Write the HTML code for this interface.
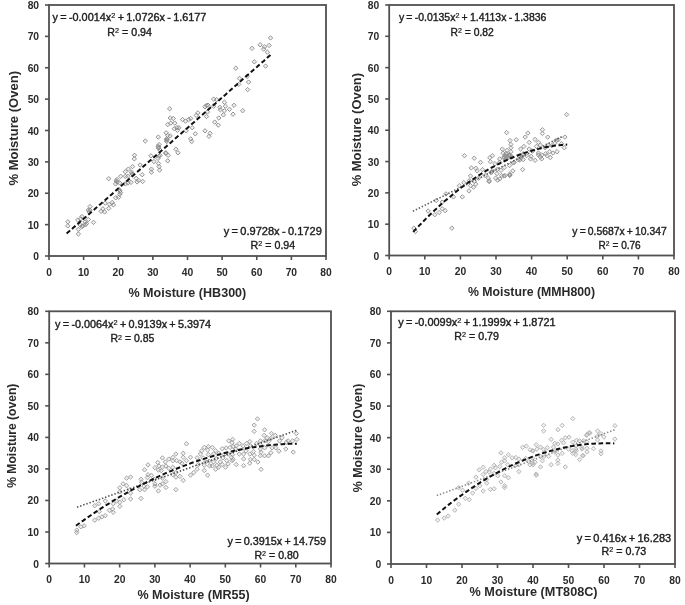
<!DOCTYPE html><html><head><meta charset="utf-8"><style>html,body{margin:0;padding:0;background:#fff;overflow:hidden}svg{display:block;filter:blur(0.35px)}</style></head><body><svg width="685" height="605" viewBox="0 0 685 605">
<rect width="685" height="605" fill="#fff"/>
<line x1="45.0" y1="256.00" x2="49.0" y2="256.00" stroke="#505050" stroke-width="1.6"/>
<text x="39.1" y="260.00" text-anchor="end" font-family="Liberation Sans, sans-serif" font-weight="bold" font-size="10.3" fill="#2a2a2a">0</text>
<line x1="49.00" y1="256.0" x2="49.00" y2="260.0" stroke="#505050" stroke-width="1.6"/>
<text x="49.00" y="275.80" text-anchor="middle" font-family="Liberation Sans, sans-serif" font-weight="bold" font-size="10.3" fill="#2a2a2a">0</text>
<line x1="45.0" y1="224.62" x2="49.0" y2="224.62" stroke="#505050" stroke-width="1.6"/>
<text x="39.1" y="228.62" text-anchor="end" font-family="Liberation Sans, sans-serif" font-weight="bold" font-size="10.3" fill="#2a2a2a">10</text>
<line x1="83.62" y1="256.0" x2="83.62" y2="260.0" stroke="#505050" stroke-width="1.6"/>
<text x="83.62" y="275.80" text-anchor="middle" font-family="Liberation Sans, sans-serif" font-weight="bold" font-size="10.3" fill="#2a2a2a">10</text>
<line x1="45.0" y1="193.25" x2="49.0" y2="193.25" stroke="#505050" stroke-width="1.6"/>
<text x="39.1" y="197.25" text-anchor="end" font-family="Liberation Sans, sans-serif" font-weight="bold" font-size="10.3" fill="#2a2a2a">20</text>
<line x1="118.25" y1="256.0" x2="118.25" y2="260.0" stroke="#505050" stroke-width="1.6"/>
<text x="118.25" y="275.80" text-anchor="middle" font-family="Liberation Sans, sans-serif" font-weight="bold" font-size="10.3" fill="#2a2a2a">20</text>
<line x1="45.0" y1="161.88" x2="49.0" y2="161.88" stroke="#505050" stroke-width="1.6"/>
<text x="39.1" y="165.88" text-anchor="end" font-family="Liberation Sans, sans-serif" font-weight="bold" font-size="10.3" fill="#2a2a2a">30</text>
<line x1="152.88" y1="256.0" x2="152.88" y2="260.0" stroke="#505050" stroke-width="1.6"/>
<text x="152.88" y="275.80" text-anchor="middle" font-family="Liberation Sans, sans-serif" font-weight="bold" font-size="10.3" fill="#2a2a2a">30</text>
<line x1="45.0" y1="130.50" x2="49.0" y2="130.50" stroke="#505050" stroke-width="1.6"/>
<text x="39.1" y="134.50" text-anchor="end" font-family="Liberation Sans, sans-serif" font-weight="bold" font-size="10.3" fill="#2a2a2a">40</text>
<line x1="187.50" y1="256.0" x2="187.50" y2="260.0" stroke="#505050" stroke-width="1.6"/>
<text x="187.50" y="275.80" text-anchor="middle" font-family="Liberation Sans, sans-serif" font-weight="bold" font-size="10.3" fill="#2a2a2a">40</text>
<line x1="45.0" y1="99.12" x2="49.0" y2="99.12" stroke="#505050" stroke-width="1.6"/>
<text x="39.1" y="103.12" text-anchor="end" font-family="Liberation Sans, sans-serif" font-weight="bold" font-size="10.3" fill="#2a2a2a">50</text>
<line x1="222.12" y1="256.0" x2="222.12" y2="260.0" stroke="#505050" stroke-width="1.6"/>
<text x="222.12" y="275.80" text-anchor="middle" font-family="Liberation Sans, sans-serif" font-weight="bold" font-size="10.3" fill="#2a2a2a">50</text>
<line x1="45.0" y1="67.75" x2="49.0" y2="67.75" stroke="#505050" stroke-width="1.6"/>
<text x="39.1" y="71.75" text-anchor="end" font-family="Liberation Sans, sans-serif" font-weight="bold" font-size="10.3" fill="#2a2a2a">60</text>
<line x1="256.75" y1="256.0" x2="256.75" y2="260.0" stroke="#505050" stroke-width="1.6"/>
<text x="256.75" y="275.80" text-anchor="middle" font-family="Liberation Sans, sans-serif" font-weight="bold" font-size="10.3" fill="#2a2a2a">60</text>
<line x1="45.0" y1="36.38" x2="49.0" y2="36.38" stroke="#505050" stroke-width="1.6"/>
<text x="39.1" y="40.38" text-anchor="end" font-family="Liberation Sans, sans-serif" font-weight="bold" font-size="10.3" fill="#2a2a2a">70</text>
<line x1="291.38" y1="256.0" x2="291.38" y2="260.0" stroke="#505050" stroke-width="1.6"/>
<text x="291.38" y="275.80" text-anchor="middle" font-family="Liberation Sans, sans-serif" font-weight="bold" font-size="10.3" fill="#2a2a2a">70</text>
<line x1="45.0" y1="5.00" x2="49.0" y2="5.00" stroke="#505050" stroke-width="1.6"/>
<text x="39.1" y="9.00" text-anchor="end" font-family="Liberation Sans, sans-serif" font-weight="bold" font-size="10.3" fill="#2a2a2a">80</text>
<line x1="326.00" y1="256.0" x2="326.00" y2="260.0" stroke="#505050" stroke-width="1.6"/>
<text x="326.00" y="275.80" text-anchor="middle" font-family="Liberation Sans, sans-serif" font-weight="bold" font-size="10.3" fill="#2a2a2a">80</text>
<rect x="49.0" y="5.0" width="277.0" height="251.0" fill="none" stroke="#505050" stroke-width="1.8"/>
<line x1="385.2" y1="255.50" x2="389.2" y2="255.50" stroke="#505050" stroke-width="1.6"/>
<text x="379.2" y="259.50" text-anchor="end" font-family="Liberation Sans, sans-serif" font-weight="bold" font-size="10.3" fill="#2a2a2a">0</text>
<line x1="389.20" y1="255.5" x2="389.20" y2="259.5" stroke="#505050" stroke-width="1.6"/>
<text x="389.20" y="275.30" text-anchor="middle" font-family="Liberation Sans, sans-serif" font-weight="bold" font-size="10.3" fill="#2a2a2a">0</text>
<line x1="385.2" y1="224.19" x2="389.2" y2="224.19" stroke="#505050" stroke-width="1.6"/>
<text x="379.2" y="228.19" text-anchor="end" font-family="Liberation Sans, sans-serif" font-weight="bold" font-size="10.3" fill="#2a2a2a">10</text>
<line x1="424.80" y1="255.5" x2="424.80" y2="259.5" stroke="#505050" stroke-width="1.6"/>
<text x="424.80" y="275.30" text-anchor="middle" font-family="Liberation Sans, sans-serif" font-weight="bold" font-size="10.3" fill="#2a2a2a">10</text>
<line x1="385.2" y1="192.88" x2="389.2" y2="192.88" stroke="#505050" stroke-width="1.6"/>
<text x="379.2" y="196.88" text-anchor="end" font-family="Liberation Sans, sans-serif" font-weight="bold" font-size="10.3" fill="#2a2a2a">20</text>
<line x1="460.40" y1="255.5" x2="460.40" y2="259.5" stroke="#505050" stroke-width="1.6"/>
<text x="460.40" y="275.30" text-anchor="middle" font-family="Liberation Sans, sans-serif" font-weight="bold" font-size="10.3" fill="#2a2a2a">20</text>
<line x1="385.2" y1="161.56" x2="389.2" y2="161.56" stroke="#505050" stroke-width="1.6"/>
<text x="379.2" y="165.56" text-anchor="end" font-family="Liberation Sans, sans-serif" font-weight="bold" font-size="10.3" fill="#2a2a2a">30</text>
<line x1="496.00" y1="255.5" x2="496.00" y2="259.5" stroke="#505050" stroke-width="1.6"/>
<text x="496.00" y="275.30" text-anchor="middle" font-family="Liberation Sans, sans-serif" font-weight="bold" font-size="10.3" fill="#2a2a2a">30</text>
<line x1="385.2" y1="130.25" x2="389.2" y2="130.25" stroke="#505050" stroke-width="1.6"/>
<text x="379.2" y="134.25" text-anchor="end" font-family="Liberation Sans, sans-serif" font-weight="bold" font-size="10.3" fill="#2a2a2a">40</text>
<line x1="531.60" y1="255.5" x2="531.60" y2="259.5" stroke="#505050" stroke-width="1.6"/>
<text x="531.60" y="275.30" text-anchor="middle" font-family="Liberation Sans, sans-serif" font-weight="bold" font-size="10.3" fill="#2a2a2a">40</text>
<line x1="385.2" y1="98.94" x2="389.2" y2="98.94" stroke="#505050" stroke-width="1.6"/>
<text x="379.2" y="102.94" text-anchor="end" font-family="Liberation Sans, sans-serif" font-weight="bold" font-size="10.3" fill="#2a2a2a">50</text>
<line x1="567.20" y1="255.5" x2="567.20" y2="259.5" stroke="#505050" stroke-width="1.6"/>
<text x="567.20" y="275.30" text-anchor="middle" font-family="Liberation Sans, sans-serif" font-weight="bold" font-size="10.3" fill="#2a2a2a">50</text>
<line x1="385.2" y1="67.62" x2="389.2" y2="67.62" stroke="#505050" stroke-width="1.6"/>
<text x="379.2" y="71.62" text-anchor="end" font-family="Liberation Sans, sans-serif" font-weight="bold" font-size="10.3" fill="#2a2a2a">60</text>
<line x1="602.80" y1="255.5" x2="602.80" y2="259.5" stroke="#505050" stroke-width="1.6"/>
<text x="602.80" y="275.30" text-anchor="middle" font-family="Liberation Sans, sans-serif" font-weight="bold" font-size="10.3" fill="#2a2a2a">60</text>
<line x1="385.2" y1="36.31" x2="389.2" y2="36.31" stroke="#505050" stroke-width="1.6"/>
<text x="379.2" y="40.31" text-anchor="end" font-family="Liberation Sans, sans-serif" font-weight="bold" font-size="10.3" fill="#2a2a2a">70</text>
<line x1="638.40" y1="255.5" x2="638.40" y2="259.5" stroke="#505050" stroke-width="1.6"/>
<text x="638.40" y="275.30" text-anchor="middle" font-family="Liberation Sans, sans-serif" font-weight="bold" font-size="10.3" fill="#2a2a2a">70</text>
<line x1="385.2" y1="5.00" x2="389.2" y2="5.00" stroke="#505050" stroke-width="1.6"/>
<text x="379.2" y="9.00" text-anchor="end" font-family="Liberation Sans, sans-serif" font-weight="bold" font-size="10.3" fill="#2a2a2a">80</text>
<line x1="674.00" y1="255.5" x2="674.00" y2="259.5" stroke="#505050" stroke-width="1.6"/>
<text x="674.00" y="275.30" text-anchor="middle" font-family="Liberation Sans, sans-serif" font-weight="bold" font-size="10.3" fill="#2a2a2a">80</text>
<rect x="389.2" y="5.0" width="284.8" height="250.5" fill="none" stroke="#505050" stroke-width="1.8"/>
<line x1="45.2" y1="563.50" x2="49.2" y2="563.50" stroke="#505050" stroke-width="1.6"/>
<text x="39.0" y="567.50" text-anchor="end" font-family="Liberation Sans, sans-serif" font-weight="bold" font-size="10.3" fill="#2a2a2a">0</text>
<line x1="49.20" y1="563.5" x2="49.20" y2="567.5" stroke="#505050" stroke-width="1.6"/>
<text x="49.20" y="583.30" text-anchor="middle" font-family="Liberation Sans, sans-serif" font-weight="bold" font-size="10.3" fill="#2a2a2a">0</text>
<line x1="45.2" y1="531.98" x2="49.2" y2="531.98" stroke="#505050" stroke-width="1.6"/>
<text x="39.0" y="535.98" text-anchor="end" font-family="Liberation Sans, sans-serif" font-weight="bold" font-size="10.3" fill="#2a2a2a">10</text>
<line x1="84.43" y1="563.5" x2="84.43" y2="567.5" stroke="#505050" stroke-width="1.6"/>
<text x="84.43" y="583.30" text-anchor="middle" font-family="Liberation Sans, sans-serif" font-weight="bold" font-size="10.3" fill="#2a2a2a">10</text>
<line x1="45.2" y1="500.45" x2="49.2" y2="500.45" stroke="#505050" stroke-width="1.6"/>
<text x="39.0" y="504.45" text-anchor="end" font-family="Liberation Sans, sans-serif" font-weight="bold" font-size="10.3" fill="#2a2a2a">20</text>
<line x1="119.65" y1="563.5" x2="119.65" y2="567.5" stroke="#505050" stroke-width="1.6"/>
<text x="119.65" y="583.30" text-anchor="middle" font-family="Liberation Sans, sans-serif" font-weight="bold" font-size="10.3" fill="#2a2a2a">20</text>
<line x1="45.2" y1="468.93" x2="49.2" y2="468.93" stroke="#505050" stroke-width="1.6"/>
<text x="39.0" y="472.93" text-anchor="end" font-family="Liberation Sans, sans-serif" font-weight="bold" font-size="10.3" fill="#2a2a2a">30</text>
<line x1="154.88" y1="563.5" x2="154.88" y2="567.5" stroke="#505050" stroke-width="1.6"/>
<text x="154.88" y="583.30" text-anchor="middle" font-family="Liberation Sans, sans-serif" font-weight="bold" font-size="10.3" fill="#2a2a2a">30</text>
<line x1="45.2" y1="437.40" x2="49.2" y2="437.40" stroke="#505050" stroke-width="1.6"/>
<text x="39.0" y="441.40" text-anchor="end" font-family="Liberation Sans, sans-serif" font-weight="bold" font-size="10.3" fill="#2a2a2a">40</text>
<line x1="190.10" y1="563.5" x2="190.10" y2="567.5" stroke="#505050" stroke-width="1.6"/>
<text x="190.10" y="583.30" text-anchor="middle" font-family="Liberation Sans, sans-serif" font-weight="bold" font-size="10.3" fill="#2a2a2a">40</text>
<line x1="45.2" y1="405.88" x2="49.2" y2="405.88" stroke="#505050" stroke-width="1.6"/>
<text x="39.0" y="409.88" text-anchor="end" font-family="Liberation Sans, sans-serif" font-weight="bold" font-size="10.3" fill="#2a2a2a">50</text>
<line x1="225.32" y1="563.5" x2="225.32" y2="567.5" stroke="#505050" stroke-width="1.6"/>
<text x="225.32" y="583.30" text-anchor="middle" font-family="Liberation Sans, sans-serif" font-weight="bold" font-size="10.3" fill="#2a2a2a">50</text>
<line x1="45.2" y1="374.35" x2="49.2" y2="374.35" stroke="#505050" stroke-width="1.6"/>
<text x="39.0" y="378.35" text-anchor="end" font-family="Liberation Sans, sans-serif" font-weight="bold" font-size="10.3" fill="#2a2a2a">60</text>
<line x1="260.55" y1="563.5" x2="260.55" y2="567.5" stroke="#505050" stroke-width="1.6"/>
<text x="260.55" y="583.30" text-anchor="middle" font-family="Liberation Sans, sans-serif" font-weight="bold" font-size="10.3" fill="#2a2a2a">60</text>
<line x1="45.2" y1="342.83" x2="49.2" y2="342.83" stroke="#505050" stroke-width="1.6"/>
<text x="39.0" y="346.83" text-anchor="end" font-family="Liberation Sans, sans-serif" font-weight="bold" font-size="10.3" fill="#2a2a2a">70</text>
<line x1="295.77" y1="563.5" x2="295.77" y2="567.5" stroke="#505050" stroke-width="1.6"/>
<text x="295.77" y="583.30" text-anchor="middle" font-family="Liberation Sans, sans-serif" font-weight="bold" font-size="10.3" fill="#2a2a2a">70</text>
<line x1="45.2" y1="311.30" x2="49.2" y2="311.30" stroke="#505050" stroke-width="1.6"/>
<text x="39.0" y="315.30" text-anchor="end" font-family="Liberation Sans, sans-serif" font-weight="bold" font-size="10.3" fill="#2a2a2a">80</text>
<line x1="331.00" y1="563.5" x2="331.00" y2="567.5" stroke="#505050" stroke-width="1.6"/>
<text x="331.00" y="583.30" text-anchor="middle" font-family="Liberation Sans, sans-serif" font-weight="bold" font-size="10.3" fill="#2a2a2a">80</text>
<rect x="49.2" y="311.3" width="281.8" height="252.2" fill="none" stroke="#505050" stroke-width="1.8"/>
<line x1="387.0" y1="564.00" x2="391.0" y2="564.00" stroke="#505050" stroke-width="1.6"/>
<text x="381.3" y="568.00" text-anchor="end" font-family="Liberation Sans, sans-serif" font-weight="bold" font-size="10.3" fill="#2a2a2a">0</text>
<line x1="391.00" y1="564.0" x2="391.00" y2="568.0" stroke="#505050" stroke-width="1.6"/>
<text x="391.00" y="583.80" text-anchor="middle" font-family="Liberation Sans, sans-serif" font-weight="bold" font-size="10.3" fill="#2a2a2a">0</text>
<line x1="387.0" y1="532.41" x2="391.0" y2="532.41" stroke="#505050" stroke-width="1.6"/>
<text x="381.3" y="536.41" text-anchor="end" font-family="Liberation Sans, sans-serif" font-weight="bold" font-size="10.3" fill="#2a2a2a">10</text>
<line x1="426.50" y1="564.0" x2="426.50" y2="568.0" stroke="#505050" stroke-width="1.6"/>
<text x="426.50" y="583.80" text-anchor="middle" font-family="Liberation Sans, sans-serif" font-weight="bold" font-size="10.3" fill="#2a2a2a">10</text>
<line x1="387.0" y1="500.82" x2="391.0" y2="500.82" stroke="#505050" stroke-width="1.6"/>
<text x="381.3" y="504.82" text-anchor="end" font-family="Liberation Sans, sans-serif" font-weight="bold" font-size="10.3" fill="#2a2a2a">20</text>
<line x1="462.00" y1="564.0" x2="462.00" y2="568.0" stroke="#505050" stroke-width="1.6"/>
<text x="462.00" y="583.80" text-anchor="middle" font-family="Liberation Sans, sans-serif" font-weight="bold" font-size="10.3" fill="#2a2a2a">20</text>
<line x1="387.0" y1="469.24" x2="391.0" y2="469.24" stroke="#505050" stroke-width="1.6"/>
<text x="381.3" y="473.24" text-anchor="end" font-family="Liberation Sans, sans-serif" font-weight="bold" font-size="10.3" fill="#2a2a2a">30</text>
<line x1="497.50" y1="564.0" x2="497.50" y2="568.0" stroke="#505050" stroke-width="1.6"/>
<text x="497.50" y="583.80" text-anchor="middle" font-family="Liberation Sans, sans-serif" font-weight="bold" font-size="10.3" fill="#2a2a2a">30</text>
<line x1="387.0" y1="437.65" x2="391.0" y2="437.65" stroke="#505050" stroke-width="1.6"/>
<text x="381.3" y="441.65" text-anchor="end" font-family="Liberation Sans, sans-serif" font-weight="bold" font-size="10.3" fill="#2a2a2a">40</text>
<line x1="533.00" y1="564.0" x2="533.00" y2="568.0" stroke="#505050" stroke-width="1.6"/>
<text x="533.00" y="583.80" text-anchor="middle" font-family="Liberation Sans, sans-serif" font-weight="bold" font-size="10.3" fill="#2a2a2a">40</text>
<line x1="387.0" y1="406.06" x2="391.0" y2="406.06" stroke="#505050" stroke-width="1.6"/>
<text x="381.3" y="410.06" text-anchor="end" font-family="Liberation Sans, sans-serif" font-weight="bold" font-size="10.3" fill="#2a2a2a">50</text>
<line x1="568.50" y1="564.0" x2="568.50" y2="568.0" stroke="#505050" stroke-width="1.6"/>
<text x="568.50" y="583.80" text-anchor="middle" font-family="Liberation Sans, sans-serif" font-weight="bold" font-size="10.3" fill="#2a2a2a">50</text>
<line x1="387.0" y1="374.48" x2="391.0" y2="374.48" stroke="#505050" stroke-width="1.6"/>
<text x="381.3" y="378.48" text-anchor="end" font-family="Liberation Sans, sans-serif" font-weight="bold" font-size="10.3" fill="#2a2a2a">60</text>
<line x1="604.00" y1="564.0" x2="604.00" y2="568.0" stroke="#505050" stroke-width="1.6"/>
<text x="604.00" y="583.80" text-anchor="middle" font-family="Liberation Sans, sans-serif" font-weight="bold" font-size="10.3" fill="#2a2a2a">60</text>
<line x1="387.0" y1="342.89" x2="391.0" y2="342.89" stroke="#505050" stroke-width="1.6"/>
<text x="381.3" y="346.89" text-anchor="end" font-family="Liberation Sans, sans-serif" font-weight="bold" font-size="10.3" fill="#2a2a2a">70</text>
<line x1="639.50" y1="564.0" x2="639.50" y2="568.0" stroke="#505050" stroke-width="1.6"/>
<text x="639.50" y="583.80" text-anchor="middle" font-family="Liberation Sans, sans-serif" font-weight="bold" font-size="10.3" fill="#2a2a2a">70</text>
<line x1="387.0" y1="311.30" x2="391.0" y2="311.30" stroke="#505050" stroke-width="1.6"/>
<text x="381.3" y="315.30" text-anchor="end" font-family="Liberation Sans, sans-serif" font-weight="bold" font-size="10.3" fill="#2a2a2a">80</text>
<line x1="675.00" y1="564.0" x2="675.00" y2="568.0" stroke="#505050" stroke-width="1.6"/>
<text x="675.00" y="583.80" text-anchor="middle" font-family="Liberation Sans, sans-serif" font-weight="bold" font-size="10.3" fill="#2a2a2a">80</text>
<rect x="391.0" y="311.3" width="284.0" height="252.7" fill="none" stroke="#505050" stroke-width="1.8"/>
<g fill="#808080" fill-opacity="0.13" stroke="#8a8a8a" stroke-width="0.9">
<path d="M67.8 219.6l2.2 2.2l-2.2 2.2l-2.2-2.2z"/>
<path d="M67.8 223.7l2.2 2.2l-2.2 2.2l-2.2-2.2z"/>
<path d="M77.8 217.8l2.2 2.2l-2.2 2.2l-2.2-2.2z"/>
<path d="M78.4 227.2l2.2 2.2l-2.2 2.2l-2.2-2.2z"/>
<path d="M78.4 231.8l2.2 2.2l-2.2 2.2l-2.2-2.2z"/>
<path d="M80.7 216.7l2.2 2.2l-2.2 2.2l-2.2-2.2z"/>
<path d="M81.9 214.3l2.2 2.2l-2.2 2.2l-2.2-2.2z"/>
<path d="M83.0 223.7l2.2 2.2l-2.2 2.2l-2.2-2.2z"/>
<path d="M85.4 222.5l2.2 2.2l-2.2 2.2l-2.2-2.2z"/>
<path d="M86.5 221.3l2.2 2.2l-2.2 2.2l-2.2-2.2z"/>
<path d="M88.3 217.3l2.2 2.2l-2.2 2.2l-2.2-2.2z"/>
<path d="M88.3 207.9l2.2 2.2l-2.2 2.2l-2.2-2.2z"/>
<path d="M90.0 204.4l2.2 2.2l-2.2 2.2l-2.2-2.2z"/>
<path d="M90.0 207.9l2.2 2.2l-2.2 2.2l-2.2-2.2z"/>
<path d="M93.5 220.2l2.2 2.2l-2.2 2.2l-2.2-2.2z"/>
<path d="M101.1 209.1l2.2 2.2l-2.2 2.2l-2.2-2.2z"/>
<path d="M102.9 206.7l2.2 2.2l-2.2 2.2l-2.2-2.2z"/>
<path d="M104.6 209.7l2.2 2.2l-2.2 2.2l-2.2-2.2z"/>
<path d="M105.2 200.9l2.2 2.2l-2.2 2.2l-2.2-2.2z"/>
<path d="M108.7 206.2l2.2 2.2l-2.2 2.2l-2.2-2.2z"/>
<path d="M109.3 202.1l2.2 2.2l-2.2 2.2l-2.2-2.2z"/>
<path d="M112.2 200.3l2.2 2.2l-2.2 2.2l-2.2-2.2z"/>
<path d="M113.4 202.7l2.2 2.2l-2.2 2.2l-2.2-2.2z"/>
<path d="M115.7 195.6l2.2 2.2l-2.2 2.2l-2.2-2.2z"/>
<path d="M118.6 195.1l2.2 2.2l-2.2 2.2l-2.2-2.2z"/>
<path d="M119.8 192.1l2.2 2.2l-2.2 2.2l-2.2-2.2z"/>
<path d="M120.4 190.4l2.2 2.2l-2.2 2.2l-2.2-2.2z"/>
<path d="M119.2 187.5l2.2 2.2l-2.2 2.2l-2.2-2.2z"/>
<path d="M80.1 222.5l2.2 2.2l-2.2 2.2l-2.2-2.2z"/>
<path d="M81.9 224.3l2.2 2.2l-2.2 2.2l-2.2-2.2z"/>
<path d="M145.3 138.8l2.2 2.2l-2.2 2.2l-2.2-2.2z"/>
<path d="M134.5 153.1l2.2 2.2l-2.2 2.2l-2.2-2.2z"/>
<path d="M134.3 156.7l2.2 2.2l-2.2 2.2l-2.2-2.2z"/>
<path d="M132.5 164.4l2.2 2.2l-2.2 2.2l-2.2-2.2z"/>
<path d="M128.4 166.9l2.2 2.2l-2.2 2.2l-2.2-2.2z"/>
<path d="M125.3 169.5l2.2 2.2l-2.2 2.2l-2.2-2.2z"/>
<path d="M131.5 170.0l2.2 2.2l-2.2 2.2l-2.2-2.2z"/>
<path d="M132.0 171.5l2.2 2.2l-2.2 2.2l-2.2-2.2z"/>
<path d="M120.7 174.1l2.2 2.2l-2.2 2.2l-2.2-2.2z"/>
<path d="M125.3 174.1l2.2 2.2l-2.2 2.2l-2.2-2.2z"/>
<path d="M127.9 174.1l2.2 2.2l-2.2 2.2l-2.2-2.2z"/>
<path d="M116.1 178.7l2.2 2.2l-2.2 2.2l-2.2-2.2z"/>
<path d="M117.2 179.7l2.2 2.2l-2.2 2.2l-2.2-2.2z"/>
<path d="M115.6 181.7l2.2 2.2l-2.2 2.2l-2.2-2.2z"/>
<path d="M119.7 180.7l2.2 2.2l-2.2 2.2l-2.2-2.2z"/>
<path d="M125.3 181.7l2.2 2.2l-2.2 2.2l-2.2-2.2z"/>
<path d="M127.9 180.7l2.2 2.2l-2.2 2.2l-2.2-2.2z"/>
<path d="M131.0 180.2l2.2 2.2l-2.2 2.2l-2.2-2.2z"/>
<path d="M136.1 176.1l2.2 2.2l-2.2 2.2l-2.2-2.2z"/>
<path d="M137.1 179.7l2.2 2.2l-2.2 2.2l-2.2-2.2z"/>
<path d="M138.6 178.2l2.2 2.2l-2.2 2.2l-2.2-2.2z"/>
<path d="M142.7 179.2l2.2 2.2l-2.2 2.2l-2.2-2.2z"/>
<path d="M142.2 172.5l2.2 2.2l-2.2 2.2l-2.2-2.2z"/>
<path d="M140.1 162.8l2.2 2.2l-2.2 2.2l-2.2-2.2z"/>
<path d="M150.9 153.6l2.2 2.2l-2.2 2.2l-2.2-2.2z"/>
<path d="M153.9 159.3l2.2 2.2l-2.2 2.2l-2.2-2.2z"/>
<path d="M151.4 166.9l2.2 2.2l-2.2 2.2l-2.2-2.2z"/>
<path d="M151.4 170.0l2.2 2.2l-2.2 2.2l-2.2-2.2z"/>
<path d="M158.0 156.2l2.2 2.2l-2.2 2.2l-2.2-2.2z"/>
<path d="M160.1 153.1l2.2 2.2l-2.2 2.2l-2.2-2.2z"/>
<path d="M158.5 161.3l2.2 2.2l-2.2 2.2l-2.2-2.2z"/>
<path d="M159.1 164.4l2.2 2.2l-2.2 2.2l-2.2-2.2z"/>
<path d="M159.6 167.9l2.2 2.2l-2.2 2.2l-2.2-2.2z"/>
<path d="M159.1 142.4l2.2 2.2l-2.2 2.2l-2.2-2.2z"/>
<path d="M158.5 146.0l2.2 2.2l-2.2 2.2l-2.2-2.2z"/>
<path d="M160.1 148.0l2.2 2.2l-2.2 2.2l-2.2-2.2z"/>
<path d="M165.7 151.1l2.2 2.2l-2.2 2.2l-2.2-2.2z"/>
<path d="M168.2 153.1l2.2 2.2l-2.2 2.2l-2.2-2.2z"/>
<path d="M167.7 158.7l2.2 2.2l-2.2 2.2l-2.2-2.2z"/>
<path d="M166.7 139.3l2.2 2.2l-2.2 2.2l-2.2-2.2z"/>
<path d="M175.9 147.0l2.2 2.2l-2.2 2.2l-2.2-2.2z"/>
<path d="M178.0 150.6l2.2 2.2l-2.2 2.2l-2.2-2.2z"/>
<path d="M158.3 134.9l2.2 2.2l-2.2 2.2l-2.2-2.2z"/>
<path d="M158.6 144.8l2.2 2.2l-2.2 2.2l-2.2-2.2z"/>
<path d="M165.8 150.6l2.2 2.2l-2.2 2.2l-2.2-2.2z"/>
<path d="M158.9 154.0l2.2 2.2l-2.2 2.2l-2.2-2.2z"/>
<path d="M166.4 137.8l2.2 2.2l-2.2 2.2l-2.2-2.2z"/>
<path d="M108.7 176.5l2.2 2.2l-2.2 2.2l-2.2-2.2z"/>
<path d="M169.7 106.6l2.2 2.2l-2.2 2.2l-2.2-2.2z"/>
<path d="M170.2 115.8l2.2 2.2l-2.2 2.2l-2.2-2.2z"/>
<path d="M173.3 116.3l2.2 2.2l-2.2 2.2l-2.2-2.2z"/>
<path d="M167.7 122.4l2.2 2.2l-2.2 2.2l-2.2-2.2z"/>
<path d="M170.7 120.9l2.2 2.2l-2.2 2.2l-2.2-2.2z"/>
<path d="M174.8 120.9l2.2 2.2l-2.2 2.2l-2.2-2.2z"/>
<path d="M174.3 126.5l2.2 2.2l-2.2 2.2l-2.2-2.2z"/>
<path d="M176.9 125.5l2.2 2.2l-2.2 2.2l-2.2-2.2z"/>
<path d="M178.9 125.5l2.2 2.2l-2.2 2.2l-2.2-2.2z"/>
<path d="M177.4 128.1l2.2 2.2l-2.2 2.2l-2.2-2.2z"/>
<path d="M166.1 130.6l2.2 2.2l-2.2 2.2l-2.2-2.2z"/>
<path d="M167.7 133.2l2.2 2.2l-2.2 2.2l-2.2-2.2z"/>
<path d="M170.2 133.7l2.2 2.2l-2.2 2.2l-2.2-2.2z"/>
<path d="M166.6 136.7l2.2 2.2l-2.2 2.2l-2.2-2.2z"/>
<path d="M182.5 117.3l2.2 2.2l-2.2 2.2l-2.2-2.2z"/>
<path d="M185.5 118.9l2.2 2.2l-2.2 2.2l-2.2-2.2z"/>
<path d="M188.6 117.3l2.2 2.2l-2.2 2.2l-2.2-2.2z"/>
<path d="M190.7 116.3l2.2 2.2l-2.2 2.2l-2.2-2.2z"/>
<path d="M186.1 128.6l2.2 2.2l-2.2 2.2l-2.2-2.2z"/>
<path d="M192.2 125.5l2.2 2.2l-2.2 2.2l-2.2-2.2z"/>
<path d="M195.3 131.6l2.2 2.2l-2.2 2.2l-2.2-2.2z"/>
<path d="M190.7 136.7l2.2 2.2l-2.2 2.2l-2.2-2.2z"/>
<path d="M191.7 139.3l2.2 2.2l-2.2 2.2l-2.2-2.2z"/>
<path d="M196.3 113.2l2.2 2.2l-2.2 2.2l-2.2-2.2z"/>
<path d="M197.8 110.7l2.2 2.2l-2.2 2.2l-2.2-2.2z"/>
<path d="M205.0 104.6l2.2 2.2l-2.2 2.2l-2.2-2.2z"/>
<path d="M208.0 103.0l2.2 2.2l-2.2 2.2l-2.2-2.2z"/>
<path d="M206.5 114.3l2.2 2.2l-2.2 2.2l-2.2-2.2z"/>
<path d="M207.5 109.7l2.2 2.2l-2.2 2.2l-2.2-2.2z"/>
<path d="M205.0 128.6l2.2 2.2l-2.2 2.2l-2.2-2.2z"/>
<path d="M210.1 131.1l2.2 2.2l-2.2 2.2l-2.2-2.2z"/>
<path d="M209.0 134.2l2.2 2.2l-2.2 2.2l-2.2-2.2z"/>
<path d="M213.6 96.9l2.2 2.2l-2.2 2.2l-2.2-2.2z"/>
<path d="M216.7 97.4l2.2 2.2l-2.2 2.2l-2.2-2.2z"/>
<path d="M213.6 104.0l2.2 2.2l-2.2 2.2l-2.2-2.2z"/>
<path d="M219.8 105.1l2.2 2.2l-2.2 2.2l-2.2-2.2z"/>
<path d="M220.3 107.6l2.2 2.2l-2.2 2.2l-2.2-2.2z"/>
<path d="M224.4 100.0l2.2 2.2l-2.2 2.2l-2.2-2.2z"/>
<path d="M225.4 104.0l2.2 2.2l-2.2 2.2l-2.2-2.2z"/>
<path d="M224.4 108.6l2.2 2.2l-2.2 2.2l-2.2-2.2z"/>
<path d="M223.4 112.7l2.2 2.2l-2.2 2.2l-2.2-2.2z"/>
<path d="M218.8 115.8l2.2 2.2l-2.2 2.2l-2.2-2.2z"/>
<path d="M214.7 119.9l2.2 2.2l-2.2 2.2l-2.2-2.2z"/>
<path d="M218.2 122.9l2.2 2.2l-2.2 2.2l-2.2-2.2z"/>
<path d="M229.5 107.1l2.2 2.2l-2.2 2.2l-2.2-2.2z"/>
<path d="M270.5 35.7l2.2 2.2l-2.2 2.2l-2.2-2.2z"/>
<path d="M260.1 42.6l2.2 2.2l-2.2 2.2l-2.2-2.2z"/>
<path d="M264.5 44.6l2.2 2.2l-2.2 2.2l-2.2-2.2z"/>
<path d="M269.1 43.2l2.2 2.2l-2.2 2.2l-2.2-2.2z"/>
<path d="M263.6 46.9l2.2 2.2l-2.2 2.2l-2.2-2.2z"/>
<path d="M267.3 50.0l2.2 2.2l-2.2 2.2l-2.2-2.2z"/>
<path d="M252.0 46.1l2.2 2.2l-2.2 2.2l-2.2-2.2z"/>
<path d="M254.3 59.6l2.2 2.2l-2.2 2.2l-2.2-2.2z"/>
<path d="M265.6 63.9l2.2 2.2l-2.2 2.2l-2.2-2.2z"/>
<path d="M235.8 66.0l2.2 2.2l-2.2 2.2l-2.2-2.2z"/>
<path d="M239.5 76.2l2.2 2.2l-2.2 2.2l-2.2-2.2z"/>
<path d="M247.2 74.1l2.2 2.2l-2.2 2.2l-2.2-2.2z"/>
<path d="M248.6 79.9l2.2 2.2l-2.2 2.2l-2.2-2.2z"/>
<path d="M238.7 82.2l2.2 2.2l-2.2 2.2l-2.2-2.2z"/>
<path d="M247.6 87.4l2.2 2.2l-2.2 2.2l-2.2-2.2z"/>
<path d="M234.0 103.1l2.2 2.2l-2.2 2.2l-2.2-2.2z"/>
<path d="M233.0 112.0l2.2 2.2l-2.2 2.2l-2.2-2.2z"/>
<path d="M242.7 108.5l2.2 2.2l-2.2 2.2l-2.2-2.2z"/>
<path d="M132.5 172.3l2.2 2.2l-2.2 2.2l-2.2-2.2z"/>
<path d="M117.0 177.3l2.2 2.2l-2.2 2.2l-2.2-2.2z"/>
<path d="M158.0 144.3l2.2 2.2l-2.2 2.2l-2.2-2.2z"/>
<path d="M167.5 137.3l2.2 2.2l-2.2 2.2l-2.2-2.2z"/>
<path d="M206.5 103.3l2.2 2.2l-2.2 2.2l-2.2-2.2z"/>
<path d="M120.0 188.8l2.2 2.2l-2.2 2.2l-2.2-2.2z"/>
<path d="M85.0 219.8l2.2 2.2l-2.2 2.2l-2.2-2.2z"/>
<path d="M89.0 209.8l2.2 2.2l-2.2 2.2l-2.2-2.2z"/>
</g>
<g fill="#808080" fill-opacity="0.13" stroke="#8f8f8f" stroke-width="0.9">
<path d="M413.9 225.9l2.2 2.2l-2.2 2.2l-2.2-2.2z"/>
<path d="M415.4 229.3l2.2 2.2l-2.2 2.2l-2.2-2.2z"/>
<path d="M428.1 208.8l2.2 2.2l-2.2 2.2l-2.2-2.2z"/>
<path d="M434.8 212.5l2.2 2.2l-2.2 2.2l-2.2-2.2z"/>
<path d="M439.2 210.3l2.2 2.2l-2.2 2.2l-2.2-2.2z"/>
<path d="M442.2 206.6l2.2 2.2l-2.2 2.2l-2.2-2.2z"/>
<path d="M445.2 208.5l2.2 2.2l-2.2 2.2l-2.2-2.2z"/>
<path d="M436.3 198.4l2.2 2.2l-2.2 2.2l-2.2-2.2z"/>
<path d="M442.2 199.9l2.2 2.2l-2.2 2.2l-2.2-2.2z"/>
<path d="M445.9 191.7l2.2 2.2l-2.2 2.2l-2.2-2.2z"/>
<path d="M453.4 194.7l2.2 2.2l-2.2 2.2l-2.2-2.2z"/>
<path d="M451.9 225.9l2.2 2.2l-2.2 2.2l-2.2-2.2z"/>
<path d="M462.3 194.7l2.2 2.2l-2.2 2.2l-2.2-2.2z"/>
<path d="M459.3 183.5l2.2 2.2l-2.2 2.2l-2.2-2.2z"/>
<path d="M463.8 180.5l2.2 2.2l-2.2 2.2l-2.2-2.2z"/>
<path d="M469.0 188.7l2.2 2.2l-2.2 2.2l-2.2-2.2z"/>
<path d="M470.5 183.5l2.2 2.2l-2.2 2.2l-2.2-2.2z"/>
<path d="M470.5 173.8l2.2 2.2l-2.2 2.2l-2.2-2.2z"/>
<path d="M471.2 165.7l2.2 2.2l-2.2 2.2l-2.2-2.2z"/>
<path d="M464.5 153.5l2.2 2.2l-2.2 2.2l-2.2-2.2z"/>
<path d="M474.2 156.0l2.2 2.2l-2.2 2.2l-2.2-2.2z"/>
<path d="M473.5 185.0l2.2 2.2l-2.2 2.2l-2.2-2.2z"/>
<path d="M474.2 179.1l2.2 2.2l-2.2 2.2l-2.2-2.2z"/>
<path d="M506.6 130.4l2.2 2.2l-2.2 2.2l-2.2-2.2z"/>
<path d="M510.0 138.3l2.2 2.2l-2.2 2.2l-2.2-2.2z"/>
<path d="M516.2 137.6l2.2 2.2l-2.2 2.2l-2.2-2.2z"/>
<path d="M510.9 142.3l2.2 2.2l-2.2 2.2l-2.2-2.2z"/>
<path d="M510.9 145.6l2.2 2.2l-2.2 2.2l-2.2-2.2z"/>
<path d="M502.3 146.9l2.2 2.2l-2.2 2.2l-2.2-2.2z"/>
<path d="M507.0 148.2l2.2 2.2l-2.2 2.2l-2.2-2.2z"/>
<path d="M510.9 149.5l2.2 2.2l-2.2 2.2l-2.2-2.2z"/>
<path d="M503.0 150.9l2.2 2.2l-2.2 2.2l-2.2-2.2z"/>
<path d="M506.3 154.2l2.2 2.2l-2.2 2.2l-2.2-2.2z"/>
<path d="M508.9 152.9l2.2 2.2l-2.2 2.2l-2.2-2.2z"/>
<path d="M489.8 155.5l2.2 2.2l-2.2 2.2l-2.2-2.2z"/>
<path d="M492.4 153.5l2.2 2.2l-2.2 2.2l-2.2-2.2z"/>
<path d="M499.7 156.8l2.2 2.2l-2.2 2.2l-2.2-2.2z"/>
<path d="M480.5 160.1l2.2 2.2l-2.2 2.2l-2.2-2.2z"/>
<path d="M490.4 159.5l2.2 2.2l-2.2 2.2l-2.2-2.2z"/>
<path d="M495.0 161.5l2.2 2.2l-2.2 2.2l-2.2-2.2z"/>
<path d="M499.7 160.1l2.2 2.2l-2.2 2.2l-2.2-2.2z"/>
<path d="M514.2 160.1l2.2 2.2l-2.2 2.2l-2.2-2.2z"/>
<path d="M518.2 157.5l2.2 2.2l-2.2 2.2l-2.2-2.2z"/>
<path d="M509.6 163.4l2.2 2.2l-2.2 2.2l-2.2-2.2z"/>
<path d="M475.9 166.1l2.2 2.2l-2.2 2.2l-2.2-2.2z"/>
<path d="M477.2 168.7l2.2 2.2l-2.2 2.2l-2.2-2.2z"/>
<path d="M482.5 167.4l2.2 2.2l-2.2 2.2l-2.2-2.2z"/>
<path d="M491.7 170.0l2.2 2.2l-2.2 2.2l-2.2-2.2z"/>
<path d="M497.0 167.4l2.2 2.2l-2.2 2.2l-2.2-2.2z"/>
<path d="M501.0 168.1l2.2 2.2l-2.2 2.2l-2.2-2.2z"/>
<path d="M504.3 165.4l2.2 2.2l-2.2 2.2l-2.2-2.2z"/>
<path d="M497.0 171.4l2.2 2.2l-2.2 2.2l-2.2-2.2z"/>
<path d="M501.7 173.4l2.2 2.2l-2.2 2.2l-2.2-2.2z"/>
<path d="M505.0 173.4l2.2 2.2l-2.2 2.2l-2.2-2.2z"/>
<path d="M509.6 172.0l2.2 2.2l-2.2 2.2l-2.2-2.2z"/>
<path d="M512.9 168.7l2.2 2.2l-2.2 2.2l-2.2-2.2z"/>
<path d="M478.5 176.0l2.2 2.2l-2.2 2.2l-2.2-2.2z"/>
<path d="M485.1 173.4l2.2 2.2l-2.2 2.2l-2.2-2.2z"/>
<path d="M488.4 176.0l2.2 2.2l-2.2 2.2l-2.2-2.2z"/>
<path d="M489.1 178.6l2.2 2.2l-2.2 2.2l-2.2-2.2z"/>
<path d="M495.7 176.0l2.2 2.2l-2.2 2.2l-2.2-2.2z"/>
<path d="M497.7 178.0l2.2 2.2l-2.2 2.2l-2.2-2.2z"/>
<path d="M499.7 176.7l2.2 2.2l-2.2 2.2l-2.2-2.2z"/>
<path d="M469.3 178.6l2.2 2.2l-2.2 2.2l-2.2-2.2z"/>
<path d="M475.9 182.0l2.2 2.2l-2.2 2.2l-2.2-2.2z"/>
<path d="M566.6 112.4l2.2 2.2l-2.2 2.2l-2.2-2.2z"/>
<path d="M542.4 127.6l2.2 2.2l-2.2 2.2l-2.2-2.2z"/>
<path d="M542.4 131.3l2.2 2.2l-2.2 2.2l-2.2-2.2z"/>
<path d="M527.9 130.9l2.2 2.2l-2.2 2.2l-2.2-2.2z"/>
<path d="M525.2 134.9l2.2 2.2l-2.2 2.2l-2.2-2.2z"/>
<path d="M547.7 134.9l2.2 2.2l-2.2 2.2l-2.2-2.2z"/>
<path d="M564.9 134.9l2.2 2.2l-2.2 2.2l-2.2-2.2z"/>
<path d="M535.1 137.2l2.2 2.2l-2.2 2.2l-2.2-2.2z"/>
<path d="M529.2 140.2l2.2 2.2l-2.2 2.2l-2.2-2.2z"/>
<path d="M538.4 140.2l2.2 2.2l-2.2 2.2l-2.2-2.2z"/>
<path d="M556.3 138.2l2.2 2.2l-2.2 2.2l-2.2-2.2z"/>
<path d="M555.0 140.9l2.2 2.2l-2.2 2.2l-2.2-2.2z"/>
<path d="M558.3 137.6l2.2 2.2l-2.2 2.2l-2.2-2.2z"/>
<path d="M523.9 144.2l2.2 2.2l-2.2 2.2l-2.2-2.2z"/>
<path d="M520.6 146.8l2.2 2.2l-2.2 2.2l-2.2-2.2z"/>
<path d="M536.5 144.2l2.2 2.2l-2.2 2.2l-2.2-2.2z"/>
<path d="M540.4 142.9l2.2 2.2l-2.2 2.2l-2.2-2.2z"/>
<path d="M545.1 145.5l2.2 2.2l-2.2 2.2l-2.2-2.2z"/>
<path d="M548.4 142.9l2.2 2.2l-2.2 2.2l-2.2-2.2z"/>
<path d="M551.7 143.5l2.2 2.2l-2.2 2.2l-2.2-2.2z"/>
<path d="M561.6 141.5l2.2 2.2l-2.2 2.2l-2.2-2.2z"/>
<path d="M564.2 145.5l2.2 2.2l-2.2 2.2l-2.2-2.2z"/>
<path d="M529.2 146.8l2.2 2.2l-2.2 2.2l-2.2-2.2z"/>
<path d="M532.5 148.8l2.2 2.2l-2.2 2.2l-2.2-2.2z"/>
<path d="M538.4 150.8l2.2 2.2l-2.2 2.2l-2.2-2.2z"/>
<path d="M541.7 152.8l2.2 2.2l-2.2 2.2l-2.2-2.2z"/>
<path d="M545.7 151.5l2.2 2.2l-2.2 2.2l-2.2-2.2z"/>
<path d="M549.7 149.5l2.2 2.2l-2.2 2.2l-2.2-2.2z"/>
<path d="M553.0 150.8l2.2 2.2l-2.2 2.2l-2.2-2.2z"/>
<path d="M557.0 149.5l2.2 2.2l-2.2 2.2l-2.2-2.2z"/>
<path d="M523.2 151.5l2.2 2.2l-2.2 2.2l-2.2-2.2z"/>
<path d="M526.5 153.4l2.2 2.2l-2.2 2.2l-2.2-2.2z"/>
<path d="M531.2 154.1l2.2 2.2l-2.2 2.2l-2.2-2.2z"/>
<path d="M520.6 154.1l2.2 2.2l-2.2 2.2l-2.2-2.2z"/>
<path d="M523.2 157.4l2.2 2.2l-2.2 2.2l-2.2-2.2z"/>
<path d="M530.5 156.7l2.2 2.2l-2.2 2.2l-2.2-2.2z"/>
<path d="M535.1 158.1l2.2 2.2l-2.2 2.2l-2.2-2.2z"/>
<path d="M541.7 156.7l2.2 2.2l-2.2 2.2l-2.2-2.2z"/>
<path d="M547.0 153.4l2.2 2.2l-2.2 2.2l-2.2-2.2z"/>
<path d="M550.3 155.4l2.2 2.2l-2.2 2.2l-2.2-2.2z"/>
<path d="M513.3 160.7l2.2 2.2l-2.2 2.2l-2.2-2.2z"/>
<path d="M522.6 167.3l2.2 2.2l-2.2 2.2l-2.2-2.2z"/>
<path d="M510.0 172.6l2.2 2.2l-2.2 2.2l-2.2-2.2z"/>
<path d="M538.4 152.8l2.2 2.2l-2.2 2.2l-2.2-2.2z"/>
<path d="M540.4 154.8l2.2 2.2l-2.2 2.2l-2.2-2.2z"/>
<path d="M489.2 179.4l2.2 2.2l-2.2 2.2l-2.2-2.2z"/>
<path d="M504.0 173.8l2.2 2.2l-2.2 2.2l-2.2-2.2z"/>
<path d="M509.7 173.3l2.2 2.2l-2.2 2.2l-2.2-2.2z"/>
<path d="M504.0 154.8l2.2 2.2l-2.2 2.2l-2.2-2.2z"/>
<path d="M512.0 154.8l2.2 2.2l-2.2 2.2l-2.2-2.2z"/>
<path d="M506.0 156.8l2.2 2.2l-2.2 2.2l-2.2-2.2z"/>
<path d="M505.0 153.8l2.2 2.2l-2.2 2.2l-2.2-2.2z"/>
<path d="M507.0 151.8l2.2 2.2l-2.2 2.2l-2.2-2.2z"/>
<path d="M509.0 154.3l2.2 2.2l-2.2 2.2l-2.2-2.2z"/>
<path d="M504.0 155.8l2.2 2.2l-2.2 2.2l-2.2-2.2z"/>
<path d="M508.0 155.8l2.2 2.2l-2.2 2.2l-2.2-2.2z"/>
<path d="M506.0 151.3l2.2 2.2l-2.2 2.2l-2.2-2.2z"/>
<path d="M510.0 152.8l2.2 2.2l-2.2 2.2l-2.2-2.2z"/>
<path d="M519.0 153.8l2.2 2.2l-2.2 2.2l-2.2-2.2z"/>
<path d="M521.0 155.8l2.2 2.2l-2.2 2.2l-2.2-2.2z"/>
<path d="M523.0 152.8l2.2 2.2l-2.2 2.2l-2.2-2.2z"/>
<path d="M520.0 157.8l2.2 2.2l-2.2 2.2l-2.2-2.2z"/>
<path d="M491.0 170.3l2.2 2.2l-2.2 2.2l-2.2-2.2z"/>
<path d="M492.5 168.8l2.2 2.2l-2.2 2.2l-2.2-2.2z"/>
</g>
<g fill="#808080" fill-opacity="0.13" stroke="#9a9a9a" stroke-width="0.9">
<path d="M76.8 527.9l2.2 2.2l-2.2 2.2l-2.2-2.2z"/>
<path d="M76.8 530.3l2.2 2.2l-2.2 2.2l-2.2-2.2z"/>
<path d="M80.8 524.6l2.2 2.2l-2.2 2.2l-2.2-2.2z"/>
<path d="M84.1 523.7l2.2 2.2l-2.2 2.2l-2.2-2.2z"/>
<path d="M94.7 518.0l2.2 2.2l-2.2 2.2l-2.2-2.2z"/>
<path d="M98.7 516.0l2.2 2.2l-2.2 2.2l-2.2-2.2z"/>
<path d="M102.0 514.7l2.2 2.2l-2.2 2.2l-2.2-2.2z"/>
<path d="M105.3 513.4l2.2 2.2l-2.2 2.2l-2.2-2.2z"/>
<path d="M99.3 509.4l2.2 2.2l-2.2 2.2l-2.2-2.2z"/>
<path d="M94.7 503.5l2.2 2.2l-2.2 2.2l-2.2-2.2z"/>
<path d="M98.7 501.5l2.2 2.2l-2.2 2.2l-2.2-2.2z"/>
<path d="M105.3 498.8l2.2 2.2l-2.2 2.2l-2.2-2.2z"/>
<path d="M109.3 508.1l2.2 2.2l-2.2 2.2l-2.2-2.2z"/>
<path d="M112.6 506.8l2.2 2.2l-2.2 2.2l-2.2-2.2z"/>
<path d="M113.2 510.1l2.2 2.2l-2.2 2.2l-2.2-2.2z"/>
<path d="M113.2 501.5l2.2 2.2l-2.2 2.2l-2.2-2.2z"/>
<path d="M119.8 504.1l2.2 2.2l-2.2 2.2l-2.2-2.2z"/>
<path d="M119.8 500.1l2.2 2.2l-2.2 2.2l-2.2-2.2z"/>
<path d="M116.5 498.8l2.2 2.2l-2.2 2.2l-2.2-2.2z"/>
<path d="M119.8 485.6l2.2 2.2l-2.2 2.2l-2.2-2.2z"/>
<path d="M119.8 489.6l2.2 2.2l-2.2 2.2l-2.2-2.2z"/>
<path d="M123.1 481.6l2.2 2.2l-2.2 2.2l-2.2-2.2z"/>
<path d="M123.8 497.5l2.2 2.2l-2.2 2.2l-2.2-2.2z"/>
<path d="M162.4 455.7l2.2 2.2l-2.2 2.2l-2.2-2.2z"/>
<path d="M168.8 456.9l2.2 2.2l-2.2 2.2l-2.2-2.2z"/>
<path d="M172.8 455.1l2.2 2.2l-2.2 2.2l-2.2-2.2z"/>
<path d="M157.8 460.3l2.2 2.2l-2.2 2.2l-2.2-2.2z"/>
<path d="M165.3 459.8l2.2 2.2l-2.2 2.2l-2.2-2.2z"/>
<path d="M148.0 462.7l2.2 2.2l-2.2 2.2l-2.2-2.2z"/>
<path d="M172.8 458.6l2.2 2.2l-2.2 2.2l-2.2-2.2z"/>
<path d="M154.9 465.5l2.2 2.2l-2.2 2.2l-2.2-2.2z"/>
<path d="M158.9 463.8l2.2 2.2l-2.2 2.2l-2.2-2.2z"/>
<path d="M162.4 465.0l2.2 2.2l-2.2 2.2l-2.2-2.2z"/>
<path d="M165.9 463.8l2.2 2.2l-2.2 2.2l-2.2-2.2z"/>
<path d="M168.8 466.1l2.2 2.2l-2.2 2.2l-2.2-2.2z"/>
<path d="M172.8 465.0l2.2 2.2l-2.2 2.2l-2.2-2.2z"/>
<path d="M144.5 467.6l2.2 2.2l-2.2 2.2l-2.2-2.2z"/>
<path d="M158.4 467.9l2.2 2.2l-2.2 2.2l-2.2-2.2z"/>
<path d="M161.2 468.4l2.2 2.2l-2.2 2.2l-2.2-2.2z"/>
<path d="M148.0 472.5l2.2 2.2l-2.2 2.2l-2.2-2.2z"/>
<path d="M151.4 473.1l2.2 2.2l-2.2 2.2l-2.2-2.2z"/>
<path d="M147.4 475.4l2.2 2.2l-2.2 2.2l-2.2-2.2z"/>
<path d="M126.6 476.0l2.2 2.2l-2.2 2.2l-2.2-2.2z"/>
<path d="M130.6 474.8l2.2 2.2l-2.2 2.2l-2.2-2.2z"/>
<path d="M141.0 477.1l2.2 2.2l-2.2 2.2l-2.2-2.2z"/>
<path d="M154.3 477.1l2.2 2.2l-2.2 2.2l-2.2-2.2z"/>
<path d="M162.4 476.0l2.2 2.2l-2.2 2.2l-2.2-2.2z"/>
<path d="M165.9 479.4l2.2 2.2l-2.2 2.2l-2.2-2.2z"/>
<path d="M126.6 483.5l2.2 2.2l-2.2 2.2l-2.2-2.2z"/>
<path d="M141.6 480.0l2.2 2.2l-2.2 2.2l-2.2-2.2z"/>
<path d="M143.9 484.0l2.2 2.2l-2.2 2.2l-2.2-2.2z"/>
<path d="M147.4 484.6l2.2 2.2l-2.2 2.2l-2.2-2.2z"/>
<path d="M154.9 481.7l2.2 2.2l-2.2 2.2l-2.2-2.2z"/>
<path d="M154.9 484.0l2.2 2.2l-2.2 2.2l-2.2-2.2z"/>
<path d="M160.1 482.9l2.2 2.2l-2.2 2.2l-2.2-2.2z"/>
<path d="M162.4 481.7l2.2 2.2l-2.2 2.2l-2.2-2.2z"/>
<path d="M165.9 485.2l2.2 2.2l-2.2 2.2l-2.2-2.2z"/>
<path d="M130.0 487.5l2.2 2.2l-2.2 2.2l-2.2-2.2z"/>
<path d="M139.9 487.5l2.2 2.2l-2.2 2.2l-2.2-2.2z"/>
<path d="M144.5 487.5l2.2 2.2l-2.2 2.2l-2.2-2.2z"/>
<path d="M158.4 488.7l2.2 2.2l-2.2 2.2l-2.2-2.2z"/>
<path d="M130.6 491.0l2.2 2.2l-2.2 2.2l-2.2-2.2z"/>
<path d="M130.6 496.8l2.2 2.2l-2.2 2.2l-2.2-2.2z"/>
<path d="M141.0 496.2l2.2 2.2l-2.2 2.2l-2.2-2.2z"/>
<path d="M172.8 472.5l2.2 2.2l-2.2 2.2l-2.2-2.2z"/>
<path d="M186.5 441.6l2.2 2.2l-2.2 2.2l-2.2-2.2z"/>
<path d="M228.8 438.6l2.2 2.2l-2.2 2.2l-2.2-2.2z"/>
<path d="M232.7 437.2l2.2 2.2l-2.2 2.2l-2.2-2.2z"/>
<path d="M232.1 440.5l2.2 2.2l-2.2 2.2l-2.2-2.2z"/>
<path d="M204.3 445.2l2.2 2.2l-2.2 2.2l-2.2-2.2z"/>
<path d="M208.3 444.5l2.2 2.2l-2.2 2.2l-2.2-2.2z"/>
<path d="M212.3 445.2l2.2 2.2l-2.2 2.2l-2.2-2.2z"/>
<path d="M201.7 448.5l2.2 2.2l-2.2 2.2l-2.2-2.2z"/>
<path d="M207.6 447.8l2.2 2.2l-2.2 2.2l-2.2-2.2z"/>
<path d="M215.6 448.5l2.2 2.2l-2.2 2.2l-2.2-2.2z"/>
<path d="M222.2 446.5l2.2 2.2l-2.2 2.2l-2.2-2.2z"/>
<path d="M226.1 445.8l2.2 2.2l-2.2 2.2l-2.2-2.2z"/>
<path d="M230.1 445.2l2.2 2.2l-2.2 2.2l-2.2-2.2z"/>
<path d="M175.9 451.8l2.2 2.2l-2.2 2.2l-2.2-2.2z"/>
<path d="M183.2 451.1l2.2 2.2l-2.2 2.2l-2.2-2.2z"/>
<path d="M200.4 451.8l2.2 2.2l-2.2 2.2l-2.2-2.2z"/>
<path d="M208.3 452.4l2.2 2.2l-2.2 2.2l-2.2-2.2z"/>
<path d="M213.6 451.8l2.2 2.2l-2.2 2.2l-2.2-2.2z"/>
<path d="M218.9 451.1l2.2 2.2l-2.2 2.2l-2.2-2.2z"/>
<path d="M224.2 452.4l2.2 2.2l-2.2 2.2l-2.2-2.2z"/>
<path d="M228.1 451.8l2.2 2.2l-2.2 2.2l-2.2-2.2z"/>
<path d="M183.2 455.1l2.2 2.2l-2.2 2.2l-2.2-2.2z"/>
<path d="M190.5 455.1l2.2 2.2l-2.2 2.2l-2.2-2.2z"/>
<path d="M197.1 455.7l2.2 2.2l-2.2 2.2l-2.2-2.2z"/>
<path d="M203.0 455.7l2.2 2.2l-2.2 2.2l-2.2-2.2z"/>
<path d="M216.2 456.4l2.2 2.2l-2.2 2.2l-2.2-2.2z"/>
<path d="M222.8 455.7l2.2 2.2l-2.2 2.2l-2.2-2.2z"/>
<path d="M231.4 455.1l2.2 2.2l-2.2 2.2l-2.2-2.2z"/>
<path d="M176.6 458.4l2.2 2.2l-2.2 2.2l-2.2-2.2z"/>
<path d="M179.9 459.7l2.2 2.2l-2.2 2.2l-2.2-2.2z"/>
<path d="M181.9 461.0l2.2 2.2l-2.2 2.2l-2.2-2.2z"/>
<path d="M186.5 458.4l2.2 2.2l-2.2 2.2l-2.2-2.2z"/>
<path d="M205.7 459.7l2.2 2.2l-2.2 2.2l-2.2-2.2z"/>
<path d="M209.0 459.0l2.2 2.2l-2.2 2.2l-2.2-2.2z"/>
<path d="M213.6 459.7l2.2 2.2l-2.2 2.2l-2.2-2.2z"/>
<path d="M220.2 459.7l2.2 2.2l-2.2 2.2l-2.2-2.2z"/>
<path d="M226.8 458.4l2.2 2.2l-2.2 2.2l-2.2-2.2z"/>
<path d="M232.1 458.4l2.2 2.2l-2.2 2.2l-2.2-2.2z"/>
<path d="M198.4 462.3l2.2 2.2l-2.2 2.2l-2.2-2.2z"/>
<path d="M204.3 463.0l2.2 2.2l-2.2 2.2l-2.2-2.2z"/>
<path d="M209.6 463.7l2.2 2.2l-2.2 2.2l-2.2-2.2z"/>
<path d="M216.9 463.0l2.2 2.2l-2.2 2.2l-2.2-2.2z"/>
<path d="M222.2 462.3l2.2 2.2l-2.2 2.2l-2.2-2.2z"/>
<path d="M228.1 461.7l2.2 2.2l-2.2 2.2l-2.2-2.2z"/>
<path d="M197.1 467.0l2.2 2.2l-2.2 2.2l-2.2-2.2z"/>
<path d="M204.3 468.3l2.2 2.2l-2.2 2.2l-2.2-2.2z"/>
<path d="M212.3 463.7l2.2 2.2l-2.2 2.2l-2.2-2.2z"/>
<path d="M215.6 467.0l2.2 2.2l-2.2 2.2l-2.2-2.2z"/>
<path d="M218.9 465.0l2.2 2.2l-2.2 2.2l-2.2-2.2z"/>
<path d="M225.5 465.0l2.2 2.2l-2.2 2.2l-2.2-2.2z"/>
<path d="M175.9 470.3l2.2 2.2l-2.2 2.2l-2.2-2.2z"/>
<path d="M193.8 470.3l2.2 2.2l-2.2 2.2l-2.2-2.2z"/>
<path d="M190.5 472.9l2.2 2.2l-2.2 2.2l-2.2-2.2z"/>
<path d="M207.6 472.9l2.2 2.2l-2.2 2.2l-2.2-2.2z"/>
<path d="M175.9 474.9l2.2 2.2l-2.2 2.2l-2.2-2.2z"/>
<path d="M179.9 474.2l2.2 2.2l-2.2 2.2l-2.2-2.2z"/>
<path d="M183.2 478.2l2.2 2.2l-2.2 2.2l-2.2-2.2z"/>
<path d="M175.9 487.4l2.2 2.2l-2.2 2.2l-2.2-2.2z"/>
<path d="M257.5 416.7l2.2 2.2l-2.2 2.2l-2.2-2.2z"/>
<path d="M254.2 422.9l2.2 2.2l-2.2 2.2l-2.2-2.2z"/>
<path d="M254.2 429.1l2.2 2.2l-2.2 2.2l-2.2-2.2z"/>
<path d="M264.7 427.6l2.2 2.2l-2.2 2.2l-2.2-2.2z"/>
<path d="M271.5 431.3l2.2 2.2l-2.2 2.2l-2.2-2.2z"/>
<path d="M275.2 433.2l2.2 2.2l-2.2 2.2l-2.2-2.2z"/>
<path d="M264.1 433.2l2.2 2.2l-2.2 2.2l-2.2-2.2z"/>
<path d="M267.2 435.6l2.2 2.2l-2.2 2.2l-2.2-2.2z"/>
<path d="M270.9 436.3l2.2 2.2l-2.2 2.2l-2.2-2.2z"/>
<path d="M296.3 431.3l2.2 2.2l-2.2 2.2l-2.2-2.2z"/>
<path d="M296.9 437.2l2.2 2.2l-2.2 2.2l-2.2-2.2z"/>
<path d="M292.6 438.7l2.2 2.2l-2.2 2.2l-2.2-2.2z"/>
<path d="M288.2 438.7l2.2 2.2l-2.2 2.2l-2.2-2.2z"/>
<path d="M286.4 440.0l2.2 2.2l-2.2 2.2l-2.2-2.2z"/>
<path d="M279.6 438.7l2.2 2.2l-2.2 2.2l-2.2-2.2z"/>
<path d="M282.0 435.6l2.2 2.2l-2.2 2.2l-2.2-2.2z"/>
<path d="M260.4 438.7l2.2 2.2l-2.2 2.2l-2.2-2.2z"/>
<path d="M264.7 438.7l2.2 2.2l-2.2 2.2l-2.2-2.2z"/>
<path d="M268.4 439.4l2.2 2.2l-2.2 2.2l-2.2-2.2z"/>
<path d="M249.8 439.4l2.2 2.2l-2.2 2.2l-2.2-2.2z"/>
<path d="M239.3 441.2l2.2 2.2l-2.2 2.2l-2.2-2.2z"/>
<path d="M246.7 441.2l2.2 2.2l-2.2 2.2l-2.2-2.2z"/>
<path d="M256.6 441.2l2.2 2.2l-2.2 2.2l-2.2-2.2z"/>
<path d="M260.4 442.5l2.2 2.2l-2.2 2.2l-2.2-2.2z"/>
<path d="M233.1 444.3l2.2 2.2l-2.2 2.2l-2.2-2.2z"/>
<path d="M236.2 443.7l2.2 2.2l-2.2 2.2l-2.2-2.2z"/>
<path d="M243.0 443.7l2.2 2.2l-2.2 2.2l-2.2-2.2z"/>
<path d="M250.4 443.7l2.2 2.2l-2.2 2.2l-2.2-2.2z"/>
<path d="M264.7 445.6l2.2 2.2l-2.2 2.2l-2.2-2.2z"/>
<path d="M272.1 445.6l2.2 2.2l-2.2 2.2l-2.2-2.2z"/>
<path d="M275.8 445.6l2.2 2.2l-2.2 2.2l-2.2-2.2z"/>
<path d="M285.8 446.8l2.2 2.2l-2.2 2.2l-2.2-2.2z"/>
<path d="M260.4 446.8l2.2 2.2l-2.2 2.2l-2.2-2.2z"/>
<path d="M235.6 446.8l2.2 2.2l-2.2 2.2l-2.2-2.2z"/>
<path d="M246.1 448.6l2.2 2.2l-2.2 2.2l-2.2-2.2z"/>
<path d="M253.5 449.3l2.2 2.2l-2.2 2.2l-2.2-2.2z"/>
<path d="M261.0 449.9l2.2 2.2l-2.2 2.2l-2.2-2.2z"/>
<path d="M270.9 450.5l2.2 2.2l-2.2 2.2l-2.2-2.2z"/>
<path d="M278.9 448.9l2.2 2.2l-2.2 2.2l-2.2-2.2z"/>
<path d="M293.2 449.9l2.2 2.2l-2.2 2.2l-2.2-2.2z"/>
<path d="M232.5 452.4l2.2 2.2l-2.2 2.2l-2.2-2.2z"/>
<path d="M239.3 451.8l2.2 2.2l-2.2 2.2l-2.2-2.2z"/>
<path d="M243.6 451.8l2.2 2.2l-2.2 2.2l-2.2-2.2z"/>
<path d="M249.8 451.8l2.2 2.2l-2.2 2.2l-2.2-2.2z"/>
<path d="M254.2 453.0l2.2 2.2l-2.2 2.2l-2.2-2.2z"/>
<path d="M260.4 453.6l2.2 2.2l-2.2 2.2l-2.2-2.2z"/>
<path d="M264.7 453.6l2.2 2.2l-2.2 2.2l-2.2-2.2z"/>
<path d="M268.4 453.6l2.2 2.2l-2.2 2.2l-2.2-2.2z"/>
<path d="M233.1 457.3l2.2 2.2l-2.2 2.2l-2.2-2.2z"/>
<path d="M243.6 456.7l2.2 2.2l-2.2 2.2l-2.2-2.2z"/>
<path d="M250.4 457.3l2.2 2.2l-2.2 2.2l-2.2-2.2z"/>
<path d="M254.2 457.3l2.2 2.2l-2.2 2.2l-2.2-2.2z"/>
<path d="M257.9 459.8l2.2 2.2l-2.2 2.2l-2.2-2.2z"/>
<path d="M249.8 461.0l2.2 2.2l-2.2 2.2l-2.2-2.2z"/>
<path d="M236.2 462.3l2.2 2.2l-2.2 2.2l-2.2-2.2z"/>
<path d="M243.6 463.5l2.2 2.2l-2.2 2.2l-2.2-2.2z"/>
<path d="M261.0 467.2l2.2 2.2l-2.2 2.2l-2.2-2.2z"/>
</g>
<g fill="#808080" fill-opacity="0.13" stroke="#b0b0b0" stroke-width="0.9">
<path d="M437.6 517.9l2.2 2.2l-2.2 2.2l-2.2-2.2z"/>
<path d="M444.2 515.9l2.2 2.2l-2.2 2.2l-2.2-2.2z"/>
<path d="M448.1 513.9l2.2 2.2l-2.2 2.2l-2.2-2.2z"/>
<path d="M454.8 508.0l2.2 2.2l-2.2 2.2l-2.2-2.2z"/>
<path d="M458.7 502.0l2.2 2.2l-2.2 2.2l-2.2-2.2z"/>
<path d="M458.7 485.5l2.2 2.2l-2.2 2.2l-2.2-2.2z"/>
<path d="M462.7 488.1l2.2 2.2l-2.2 2.2l-2.2-2.2z"/>
<path d="M465.3 496.1l2.2 2.2l-2.2 2.2l-2.2-2.2z"/>
<path d="M469.3 497.4l2.2 2.2l-2.2 2.2l-2.2-2.2z"/>
<path d="M468.7 480.9l2.2 2.2l-2.2 2.2l-2.2-2.2z"/>
<path d="M472.6 490.8l2.2 2.2l-2.2 2.2l-2.2-2.2z"/>
<path d="M475.9 486.2l2.2 2.2l-2.2 2.2l-2.2-2.2z"/>
<path d="M475.9 474.9l2.2 2.2l-2.2 2.2l-2.2-2.2z"/>
<path d="M479.2 467.6l2.2 2.2l-2.2 2.2l-2.2-2.2z"/>
<path d="M483.2 465.0l2.2 2.2l-2.2 2.2l-2.2-2.2z"/>
<path d="M483.2 472.3l2.2 2.2l-2.2 2.2l-2.2-2.2z"/>
<path d="M483.2 488.8l2.2 2.2l-2.2 2.2l-2.2-2.2z"/>
<path d="M479.9 483.5l2.2 2.2l-2.2 2.2l-2.2-2.2z"/>
<path d="M522.6 445.1l2.2 2.2l-2.2 2.2l-2.2-2.2z"/>
<path d="M526.3 443.9l2.2 2.2l-2.2 2.2l-2.2-2.2z"/>
<path d="M536.2 442.6l2.2 2.2l-2.2 2.2l-2.2-2.2z"/>
<path d="M530.0 447.6l2.2 2.2l-2.2 2.2l-2.2-2.2z"/>
<path d="M533.1 448.8l2.2 2.2l-2.2 2.2l-2.2-2.2z"/>
<path d="M536.9 447.0l2.2 2.2l-2.2 2.2l-2.2-2.2z"/>
<path d="M500.9 450.7l2.2 2.2l-2.2 2.2l-2.2-2.2z"/>
<path d="M508.4 452.5l2.2 2.2l-2.2 2.2l-2.2-2.2z"/>
<path d="M504.6 455.6l2.2 2.2l-2.2 2.2l-2.2-2.2z"/>
<path d="M512.1 455.6l2.2 2.2l-2.2 2.2l-2.2-2.2z"/>
<path d="M515.8 455.3l2.2 2.2l-2.2 2.2l-2.2-2.2z"/>
<path d="M518.9 456.9l2.2 2.2l-2.2 2.2l-2.2-2.2z"/>
<path d="M525.7 456.3l2.2 2.2l-2.2 2.2l-2.2-2.2z"/>
<path d="M504.6 458.7l2.2 2.2l-2.2 2.2l-2.2-2.2z"/>
<path d="M501.5 460.0l2.2 2.2l-2.2 2.2l-2.2-2.2z"/>
<path d="M494.1 463.1l2.2 2.2l-2.2 2.2l-2.2-2.2z"/>
<path d="M490.4 466.8l2.2 2.2l-2.2 2.2l-2.2-2.2z"/>
<path d="M495.3 465.6l2.2 2.2l-2.2 2.2l-2.2-2.2z"/>
<path d="M499.7 464.3l2.2 2.2l-2.2 2.2l-2.2-2.2z"/>
<path d="M507.7 462.5l2.2 2.2l-2.2 2.2l-2.2-2.2z"/>
<path d="M515.2 463.7l2.2 2.2l-2.2 2.2l-2.2-2.2z"/>
<path d="M518.9 462.5l2.2 2.2l-2.2 2.2l-2.2-2.2z"/>
<path d="M528.8 459.4l2.2 2.2l-2.2 2.2l-2.2-2.2z"/>
<path d="M530.0 462.5l2.2 2.2l-2.2 2.2l-2.2-2.2z"/>
<path d="M533.1 462.5l2.2 2.2l-2.2 2.2l-2.2-2.2z"/>
<path d="M535.0 460.0l2.2 2.2l-2.2 2.2l-2.2-2.2z"/>
<path d="M486.1 469.3l2.2 2.2l-2.2 2.2l-2.2-2.2z"/>
<path d="M489.2 469.9l2.2 2.2l-2.2 2.2l-2.2-2.2z"/>
<path d="M494.1 471.1l2.2 2.2l-2.2 2.2l-2.2-2.2z"/>
<path d="M497.8 473.6l2.2 2.2l-2.2 2.2l-2.2-2.2z"/>
<path d="M504.6 473.6l2.2 2.2l-2.2 2.2l-2.2-2.2z"/>
<path d="M508.4 475.5l2.2 2.2l-2.2 2.2l-2.2-2.2z"/>
<path d="M518.9 469.3l2.2 2.2l-2.2 2.2l-2.2-2.2z"/>
<path d="M536.2 473.0l2.2 2.2l-2.2 2.2l-2.2-2.2z"/>
<path d="M486.7 477.3l2.2 2.2l-2.2 2.2l-2.2-2.2z"/>
<path d="M486.7 481.0l2.2 2.2l-2.2 2.2l-2.2-2.2z"/>
<path d="M500.9 479.8l2.2 2.2l-2.2 2.2l-2.2-2.2z"/>
<path d="M504.6 483.5l2.2 2.2l-2.2 2.2l-2.2-2.2z"/>
<path d="M504.6 485.4l2.2 2.2l-2.2 2.2l-2.2-2.2z"/>
<path d="M490.4 487.2l2.2 2.2l-2.2 2.2l-2.2-2.2z"/>
<path d="M494.1 486.6l2.2 2.2l-2.2 2.2l-2.2-2.2z"/>
<path d="M572.8 416.4l2.2 2.2l-2.2 2.2l-2.2-2.2z"/>
<path d="M543.6 423.2l2.2 2.2l-2.2 2.2l-2.2-2.2z"/>
<path d="M543.6 428.8l2.2 2.2l-2.2 2.2l-2.2-2.2z"/>
<path d="M557.9 427.5l2.2 2.2l-2.2 2.2l-2.2-2.2z"/>
<path d="M562.2 423.2l2.2 2.2l-2.2 2.2l-2.2-2.2z"/>
<path d="M551.1 437.2l2.2 2.2l-2.2 2.2l-2.2-2.2z"/>
<path d="M561.6 438.1l2.2 2.2l-2.2 2.2l-2.2-2.2z"/>
<path d="M565.3 435.6l2.2 2.2l-2.2 2.2l-2.2-2.2z"/>
<path d="M569.0 435.0l2.2 2.2l-2.2 2.2l-2.2-2.2z"/>
<path d="M554.8 441.2l2.2 2.2l-2.2 2.2l-2.2-2.2z"/>
<path d="M557.9 441.8l2.2 2.2l-2.2 2.2l-2.2-2.2z"/>
<path d="M563.5 440.6l2.2 2.2l-2.2 2.2l-2.2-2.2z"/>
<path d="M572.8 439.9l2.2 2.2l-2.2 2.2l-2.2-2.2z"/>
<path d="M576.5 438.1l2.2 2.2l-2.2 2.2l-2.2-2.2z"/>
<path d="M579.6 438.7l2.2 2.2l-2.2 2.2l-2.2-2.2z"/>
<path d="M583.3 438.7l2.2 2.2l-2.2 2.2l-2.2-2.2z"/>
<path d="M587.0 432.5l2.2 2.2l-2.2 2.2l-2.2-2.2z"/>
<path d="M588.9 430.6l2.2 2.2l-2.2 2.2l-2.2-2.2z"/>
<path d="M540.5 444.9l2.2 2.2l-2.2 2.2l-2.2-2.2z"/>
<path d="M547.3 445.5l2.2 2.2l-2.2 2.2l-2.2-2.2z"/>
<path d="M553.5 444.9l2.2 2.2l-2.2 2.2l-2.2-2.2z"/>
<path d="M568.4 446.8l2.2 2.2l-2.2 2.2l-2.2-2.2z"/>
<path d="M572.1 448.6l2.2 2.2l-2.2 2.2l-2.2-2.2z"/>
<path d="M575.8 446.8l2.2 2.2l-2.2 2.2l-2.2-2.2z"/>
<path d="M582.0 446.8l2.2 2.2l-2.2 2.2l-2.2-2.2z"/>
<path d="M587.0 446.1l2.2 2.2l-2.2 2.2l-2.2-2.2z"/>
<path d="M532.5 448.6l2.2 2.2l-2.2 2.2l-2.2-2.2z"/>
<path d="M543.6 447.4l2.2 2.2l-2.2 2.2l-2.2-2.2z"/>
<path d="M544.9 449.8l2.2 2.2l-2.2 2.2l-2.2-2.2z"/>
<path d="M554.8 449.8l2.2 2.2l-2.2 2.2l-2.2-2.2z"/>
<path d="M562.2 451.1l2.2 2.2l-2.2 2.2l-2.2-2.2z"/>
<path d="M572.8 451.1l2.2 2.2l-2.2 2.2l-2.2-2.2z"/>
<path d="M575.8 452.3l2.2 2.2l-2.2 2.2l-2.2-2.2z"/>
<path d="M587.0 449.8l2.2 2.2l-2.2 2.2l-2.2-2.2z"/>
<path d="M540.5 454.2l2.2 2.2l-2.2 2.2l-2.2-2.2z"/>
<path d="M543.6 454.8l2.2 2.2l-2.2 2.2l-2.2-2.2z"/>
<path d="M548.6 454.2l2.2 2.2l-2.2 2.2l-2.2-2.2z"/>
<path d="M557.9 452.9l2.2 2.2l-2.2 2.2l-2.2-2.2z"/>
<path d="M582.7 453.6l2.2 2.2l-2.2 2.2l-2.2-2.2z"/>
<path d="M532.5 456.0l2.2 2.2l-2.2 2.2l-2.2-2.2z"/>
<path d="M542.4 458.5l2.2 2.2l-2.2 2.2l-2.2-2.2z"/>
<path d="M557.9 457.9l2.2 2.2l-2.2 2.2l-2.2-2.2z"/>
<path d="M579.6 457.3l2.2 2.2l-2.2 2.2l-2.2-2.2z"/>
<path d="M532.5 461.0l2.2 2.2l-2.2 2.2l-2.2-2.2z"/>
<path d="M551.1 462.5l2.2 2.2l-2.2 2.2l-2.2-2.2z"/>
<path d="M557.9 461.2l2.2 2.2l-2.2 2.2l-2.2-2.2z"/>
<path d="M540.5 464.7l2.2 2.2l-2.2 2.2l-2.2-2.2z"/>
<path d="M565.3 464.7l2.2 2.2l-2.2 2.2l-2.2-2.2z"/>
<path d="M536.2 471.9l2.2 2.2l-2.2 2.2l-2.2-2.2z"/>
<path d="M614.9 423.5l2.2 2.2l-2.2 2.2l-2.2-2.2z"/>
<path d="M614.9 436.9l2.2 2.2l-2.2 2.2l-2.2-2.2z"/>
<path d="M597.6 428.8l2.2 2.2l-2.2 2.2l-2.2-2.2z"/>
<path d="M590.0 430.8l2.2 2.2l-2.2 2.2l-2.2-2.2z"/>
<path d="M586.6 433.1l2.2 2.2l-2.2 2.2l-2.2-2.2z"/>
<path d="M601.0 431.4l2.2 2.2l-2.2 2.2l-2.2-2.2z"/>
<path d="M603.9 434.8l2.2 2.2l-2.2 2.2l-2.2-2.2z"/>
<path d="M597.6 433.7l2.2 2.2l-2.2 2.2l-2.2-2.2z"/>
<path d="M597.6 437.7l2.2 2.2l-2.2 2.2l-2.2-2.2z"/>
<path d="M586.6 439.5l2.2 2.2l-2.2 2.2l-2.2-2.2z"/>
<path d="M576.2 443.5l2.2 2.2l-2.2 2.2l-2.2-2.2z"/>
<path d="M581.9 445.3l2.2 2.2l-2.2 2.2l-2.2-2.2z"/>
<path d="M593.5 446.4l2.2 2.2l-2.2 2.2l-2.2-2.2z"/>
<path d="M601.0 448.7l2.2 2.2l-2.2 2.2l-2.2-2.2z"/>
<path d="M601.0 451.6l2.2 2.2l-2.2 2.2l-2.2-2.2z"/>
<path d="M576.2 448.7l2.2 2.2l-2.2 2.2l-2.2-2.2z"/>
<path d="M583.1 453.4l2.2 2.2l-2.2 2.2l-2.2-2.2z"/>
</g>
<polyline points="66.6,233.6 70.1,230.6 73.5,227.6 77.0,224.6 80.4,221.5 83.9,218.5 87.4,215.5 90.8,212.5 94.3,209.5 97.7,206.4 101.2,203.4 104.7,200.4 108.1,197.4 111.6,194.4 115.0,191.3 118.5,188.3 121.9,185.3 125.4,182.3 128.9,179.2 132.3,176.2 135.8,173.2 139.2,170.2 142.7,167.1 146.2,164.1 149.6,161.1 153.1,158.1 156.5,155.0 160.0,152.0 163.5,149.0 166.9,145.9 170.4,142.9 173.8,139.9 177.3,136.8 180.8,133.8 184.2,130.8 187.7,127.7 191.1,124.7 194.6,121.7 198.1,118.6 201.5,115.6 205.0,112.6 208.4,109.5 211.9,106.5 215.4,103.5 218.8,100.4 222.3,97.4 225.7,94.4 229.2,91.3 232.6,88.3 236.1,85.2 239.6,82.2 243.0,79.1 246.5,76.1 249.9,73.1 253.4,70.0 256.9,67.0 260.3,63.9 263.8,60.9 267.2,57.8 270.7,54.8" fill="none" stroke="#111" stroke-width="2.0" stroke-dasharray="4.6 2.6"/>
<polyline points="412.9,211.3 415.4,210.0 417.9,208.7 420.4,207.5 423.0,206.2 425.5,204.9 428.0,203.7 430.6,202.4 433.1,201.2 435.6,199.9 438.1,198.6 440.7,197.4 443.2,196.1 445.7,194.8 448.2,193.6 450.8,192.3 453.3,191.0 455.8,189.8 458.3,188.5 460.9,187.3 463.4,186.0 465.9,184.7 468.4,183.5 471.0,182.2 473.5,180.9 476.0,179.7 478.5,178.4 481.1,177.2 483.6,175.9 486.1,174.6 488.6,173.4 491.2,172.1 493.7,170.8 496.2,169.6 498.7,168.3 501.3,167.0 503.8,165.8 506.3,164.5 508.8,163.3 511.4,162.0 513.9,160.7 516.4,159.5 518.9,158.2 521.5,156.9 524.0,155.7 526.5,154.4 529.0,153.2 531.6,151.9 534.1,150.6 536.6,149.4 539.1,148.1 541.7,146.8 544.2,145.6 546.7,144.3 549.2,143.1 551.8,141.8 554.3,140.5 556.8,139.3 559.3,138.0 561.9,136.7" fill="none" stroke="#555" stroke-width="1.6" stroke-dasharray="1.4 1.9"/>
<polyline points="413.2,231.9 415.8,229.1 418.4,226.4 421.1,223.7 423.7,221.0 426.3,218.4 428.9,215.8 431.5,213.3 434.1,210.8 436.7,208.4 439.3,206.0 441.9,203.6 444.5,201.3 447.2,199.1 449.8,196.9 452.4,194.7 455.0,192.6 457.6,190.5 460.2,188.5 462.8,186.5 465.4,184.6 468.0,182.7 470.6,180.9 473.3,179.1 475.9,177.3 478.5,175.6 481.1,173.9 483.7,172.3 486.3,170.7 488.9,169.2 491.5,167.7 494.1,166.3 496.7,164.9 499.3,163.6 502.0,162.3 504.6,161.0 507.2,159.8 509.8,158.6 512.4,157.5 515.0,156.5 517.6,155.4 520.2,154.4 522.8,153.5 525.4,152.6 528.1,151.8 530.7,151.0 533.3,150.2 535.9,149.5 538.5,148.9 541.1,148.2 543.7,147.7 546.3,147.1 548.9,146.7 551.5,146.2 554.2,145.8 556.8,145.5 559.4,145.2 562.0,144.9 564.6,144.7 567.2,144.6" fill="none" stroke="#111" stroke-width="2.0" stroke-dasharray="4.6 2.6"/>
<polyline points="77.0,507.2 80.8,505.9 84.5,504.6 88.2,503.3 92.0,502.0 95.7,500.7 99.5,499.4 103.2,498.1 106.9,496.7 110.7,495.4 114.4,494.1 118.1,492.8 121.9,491.5 125.6,490.2 129.4,488.9 133.1,487.6 136.8,486.3 140.6,485.0 144.3,483.7 148.0,482.3 151.8,481.0 155.5,479.7 159.3,478.4 163.0,477.1 166.7,475.8 170.5,474.5 174.2,473.2 177.9,471.9 181.7,470.6 185.4,469.2 189.2,467.9 192.9,466.6 196.6,465.3 200.4,464.0 204.1,462.7 207.8,461.4 211.6,460.1 215.3,458.8 219.1,457.5 222.8,456.2 226.5,454.8 230.3,453.5 234.0,452.2 237.7,450.9 241.5,449.6 245.2,448.3 248.9,447.0 252.7,445.7 256.4,444.4 260.2,443.1 263.9,441.7 267.6,440.4 271.4,439.1 275.1,437.8 278.8,436.5 282.6,435.2 286.3,433.9 290.1,432.6 293.8,431.3 297.5,430.0" fill="none" stroke="#4a4a4a" stroke-width="1.6" stroke-dasharray="1.4 1.9"/>
<polyline points="76.0,525.8 79.7,523.0 83.5,520.4 87.2,517.8 90.9,515.2 94.7,512.6 98.4,510.2 102.2,507.7 105.9,505.3 109.7,503.0 113.4,500.7 117.1,498.4 120.9,496.2 124.6,494.0 128.4,491.9 132.1,489.8 135.9,487.8 139.6,485.8 143.4,483.9 147.1,482.0 150.8,480.2 154.6,478.3 158.3,476.6 162.1,474.9 165.8,473.2 169.6,471.6 173.3,470.0 177.0,468.5 180.8,467.0 184.5,465.6 188.3,464.2 192.0,462.8 195.8,461.5 199.5,460.3 203.2,459.1 207.0,457.9 210.7,456.8 214.5,455.7 218.2,454.7 222.0,453.7 225.7,452.8 229.5,451.9 233.2,451.0 236.9,450.2 240.7,449.5 244.4,448.8 248.2,448.1 251.9,447.5 255.7,446.9 259.4,446.4 263.1,445.9 266.9,445.5 270.6,445.1 274.4,444.8 278.1,444.5 281.9,444.2 285.6,444.0 289.3,443.8 293.1,443.7 296.8,443.7" fill="none" stroke="#111" stroke-width="2.0" stroke-dasharray="4.6 2.6"/>
<polyline points="436.8,495.6 439.8,494.5 442.8,493.4 445.9,492.3 448.9,491.1 451.9,490.0 454.9,488.9 457.9,487.8 461.0,486.7 464.0,485.6 467.0,484.4 470.0,483.3 473.0,482.2 476.1,481.1 479.1,480.0 482.1,478.8 485.1,477.7 488.1,476.6 491.2,475.5 494.2,474.4 497.2,473.3 500.2,472.1 503.2,471.0 506.3,469.9 509.3,468.8 512.3,467.7 515.3,466.5 518.3,465.4 521.4,464.3 524.4,463.2 527.4,462.1 530.4,461.0 533.5,459.8 536.5,458.7 539.5,457.6 542.5,456.5 545.5,455.4 548.6,454.2 551.6,453.1 554.6,452.0 557.6,450.9 560.6,449.8 563.7,448.7 566.7,447.5 569.7,446.4 572.7,445.3 575.7,444.2 578.8,443.1 581.8,441.9 584.8,440.8 587.8,439.7 590.8,438.6 593.9,437.5 596.9,436.4 599.9,435.2 602.9,434.1 605.9,433.0 609.0,431.9 612.0,430.8 615.0,429.7" fill="none" stroke="#8a8a8a" stroke-width="1.6" stroke-dasharray="1.4 1.9"/>
<polyline points="436.8,514.4 439.8,511.9 442.8,509.4 445.8,507.0 448.8,504.6 451.8,502.3 454.8,500.0 457.9,497.8 460.9,495.6 463.9,493.5 466.9,491.4 469.9,489.3 472.9,487.3 475.9,485.3 478.9,483.4 481.9,481.5 484.9,479.7 487.9,477.9 490.9,476.2 494.0,474.5 497.0,472.8 500.0,471.2 503.0,469.6 506.0,468.1 509.0,466.7 512.0,465.2 515.0,463.8 518.0,462.5 521.0,461.2 524.0,460.0 527.0,458.8 530.1,457.6 533.1,456.5 536.1,455.4 539.1,454.4 542.1,453.4 545.1,452.5 548.1,451.6 551.1,450.8 554.1,450.0 557.1,449.2 560.1,448.5 563.2,447.8 566.2,447.2 569.2,446.6 572.2,446.1 575.2,445.6 578.2,445.2 581.2,444.8 584.2,444.4 587.2,444.1 590.2,443.9 593.2,443.7 596.2,443.5 599.3,443.4 602.3,443.3 605.3,443.2 608.3,443.3 611.3,443.3 614.3,443.4" fill="none" stroke="#111" stroke-width="2.0" stroke-dasharray="4.6 2.6"/>
<text x="52.6" y="21.0" textLength="153.8" lengthAdjust="spacingAndGlyphs" font-family="Liberation Sans, sans-serif" font-size="10.3" word-spacing="-0.7" fill="#1e1e1e" stroke="#1e1e1e" stroke-width="0.38">y = -0.0014x<tspan font-size="7" dy="-2.9" stroke-width="0.2">2</tspan><tspan dy="2.9"> + 1.0726x - 1.6177</tspan></text>
<text x="107.3" y="35.5" textLength="44.7" lengthAdjust="spacingAndGlyphs" font-family="Liberation Sans, sans-serif" font-size="10.3" word-spacing="0" fill="#1e1e1e" stroke="#1e1e1e" stroke-width="0.38">R<tspan font-size="7" dy="-2.9" stroke-width="0.2">2</tspan><tspan dy="2.9"> = 0.94</tspan></text>
<text x="223.7" y="234.8" textLength="98.1" lengthAdjust="spacingAndGlyphs" font-family="Liberation Sans, sans-serif" font-size="10.3" word-spacing="-0.7" fill="#1e1e1e" stroke="#1e1e1e" stroke-width="0.38">y = 0.9728x - 0.1729</text>
<text x="250.6" y="248.7" textLength="44.6" lengthAdjust="spacingAndGlyphs" font-family="Liberation Sans, sans-serif" font-size="10.3" word-spacing="0" fill="#1e1e1e" stroke="#1e1e1e" stroke-width="0.38">R<tspan font-size="7" dy="-2.9" stroke-width="0.2">2</tspan><tspan dy="2.9"> = 0.94</tspan></text>
<text x="398.9" y="20.9" textLength="147.5" lengthAdjust="spacingAndGlyphs" font-family="Liberation Sans, sans-serif" font-size="10.3" word-spacing="-0.7" fill="#1e1e1e" stroke="#1e1e1e" stroke-width="0.38">y = -0.0135x<tspan font-size="7" dy="-2.9" stroke-width="0.2">2</tspan><tspan dy="2.9"> + 1.4113x - 1.3836</tspan></text>
<text x="450.5" y="35.8" textLength="43.3" lengthAdjust="spacingAndGlyphs" font-family="Liberation Sans, sans-serif" font-size="10.3" word-spacing="0" fill="#1e1e1e" stroke="#1e1e1e" stroke-width="0.38">R<tspan font-size="7" dy="-2.9" stroke-width="0.2">2</tspan><tspan dy="2.9"> = 0.82</tspan></text>
<text x="572.3" y="234.8" textLength="94.4" lengthAdjust="spacingAndGlyphs" font-family="Liberation Sans, sans-serif" font-size="10.3" word-spacing="-0.7" fill="#1e1e1e" stroke="#1e1e1e" stroke-width="0.38">y = 0.5687x + 10.347</text>
<text x="598.6" y="248.7" textLength="42.1" lengthAdjust="spacingAndGlyphs" font-family="Liberation Sans, sans-serif" font-size="10.3" word-spacing="0" fill="#1e1e1e" stroke="#1e1e1e" stroke-width="0.38">R<tspan font-size="7" dy="-2.9" stroke-width="0.2">2</tspan><tspan dy="2.9"> = 0.76</tspan></text>
<text x="55.1" y="328.3" textLength="156.0" lengthAdjust="spacingAndGlyphs" font-family="Liberation Sans, sans-serif" font-size="10.3" word-spacing="-0.7" fill="#1e1e1e" stroke="#1e1e1e" stroke-width="0.38">y = -0.0064x<tspan font-size="7" dy="-2.9" stroke-width="0.2">2</tspan><tspan dy="2.9"> + 0.9139x + 5.3974</tspan></text>
<text x="110.5" y="342.4" textLength="43.8" lengthAdjust="spacingAndGlyphs" font-family="Liberation Sans, sans-serif" font-size="10.3" word-spacing="0" fill="#1e1e1e" stroke="#1e1e1e" stroke-width="0.38">R<tspan font-size="7" dy="-2.9" stroke-width="0.2">2</tspan><tspan dy="2.9"> = 0.85</tspan></text>
<text x="227.6" y="544.9" textLength="98.5" lengthAdjust="spacingAndGlyphs" font-family="Liberation Sans, sans-serif" font-size="10.3" word-spacing="-0.7" fill="#1e1e1e" stroke="#1e1e1e" stroke-width="0.38">y = 0.3915x + 14.759</text>
<text x="254.5" y="558.8" textLength="44.2" lengthAdjust="spacingAndGlyphs" font-family="Liberation Sans, sans-serif" font-size="10.3" word-spacing="0" fill="#1e1e1e" stroke="#1e1e1e" stroke-width="0.38">R<tspan font-size="7" dy="-2.9" stroke-width="0.2">2</tspan><tspan dy="2.9"> = 0.80</tspan></text>
<text x="398.2" y="326.0" textLength="157.5" lengthAdjust="spacingAndGlyphs" font-family="Liberation Sans, sans-serif" font-size="10.3" word-spacing="-0.7" fill="#1e1e1e" stroke="#1e1e1e" stroke-width="0.38">y = -0.0099x<tspan font-size="7" dy="-2.9" stroke-width="0.2">2</tspan><tspan dy="2.9"> + 1.1999x + 1.8721</tspan></text>
<text x="454.3" y="339.6" textLength="44.7" lengthAdjust="spacingAndGlyphs" font-family="Liberation Sans, sans-serif" font-size="10.3" word-spacing="0" fill="#1e1e1e" stroke="#1e1e1e" stroke-width="0.38">R<tspan font-size="7" dy="-2.9" stroke-width="0.2">2</tspan><tspan dy="2.9"> = 0.79</tspan></text>
<text x="576.8" y="541.5" textLength="94.4" lengthAdjust="spacingAndGlyphs" font-family="Liberation Sans, sans-serif" font-size="10.3" word-spacing="-0.7" fill="#1e1e1e" stroke="#1e1e1e" stroke-width="0.38">y = 0.416x + 16.283</text>
<text x="601.6" y="554.7" textLength="44.7" lengthAdjust="spacingAndGlyphs" font-family="Liberation Sans, sans-serif" font-size="10.3" word-spacing="0" fill="#1e1e1e" stroke="#1e1e1e" stroke-width="0.38">R<tspan font-size="7" dy="-2.9" stroke-width="0.2">2</tspan><tspan dy="2.9"> = 0.73</tspan></text>
<text x="128.4" y="296.5" textLength="117.9" lengthAdjust="spacingAndGlyphs" font-family="Liberation Sans, sans-serif" font-weight="bold" font-size="12.4" fill="#2a2a2a">% Moisture (HB300)</text>
<text x="468.0" y="295.9" textLength="127.0" lengthAdjust="spacingAndGlyphs" font-family="Liberation Sans, sans-serif" font-weight="bold" font-size="12.4" fill="#2a2a2a">% Moisture (MMH800)</text>
<text x="137.4" y="598.6" textLength="112.2" lengthAdjust="spacingAndGlyphs" font-family="Liberation Sans, sans-serif" font-weight="bold" font-size="12.4" fill="#2a2a2a">% Moisture (MR55)</text>
<text x="469.6" y="595.5" textLength="128.0" lengthAdjust="spacingAndGlyphs" font-family="Liberation Sans, sans-serif" font-weight="bold" font-size="12.4" fill="#2a2a2a">% Moisture (MT808C)</text>
<text transform="translate(17.6,185.6) rotate(-90)" x="0" y="0" textLength="114.6" lengthAdjust="spacingAndGlyphs" font-family="Liberation Sans, sans-serif" font-weight="bold" font-size="12.4" fill="#2a2a2a">% Moisture (Oven)</text>
<text transform="translate(361.1,186.3) rotate(-90)" x="0" y="0" textLength="113.3" lengthAdjust="spacingAndGlyphs" font-family="Liberation Sans, sans-serif" font-weight="bold" font-size="12.4" fill="#2a2a2a">% Moisture (Oven)</text>
<text transform="translate(16.0,487.8) rotate(-90)" x="0" y="0" textLength="104.2" lengthAdjust="spacingAndGlyphs" font-family="Liberation Sans, sans-serif" font-weight="bold" font-size="12.4" fill="#2a2a2a">% Moisture (oven)</text>
<text transform="translate(362.2,492.2) rotate(-90)" x="0" y="0" textLength="108.6" lengthAdjust="spacingAndGlyphs" font-family="Liberation Sans, sans-serif" font-weight="bold" font-size="12.4" fill="#2a2a2a">% Moisture (Oven)</text>
</svg></body></html>
